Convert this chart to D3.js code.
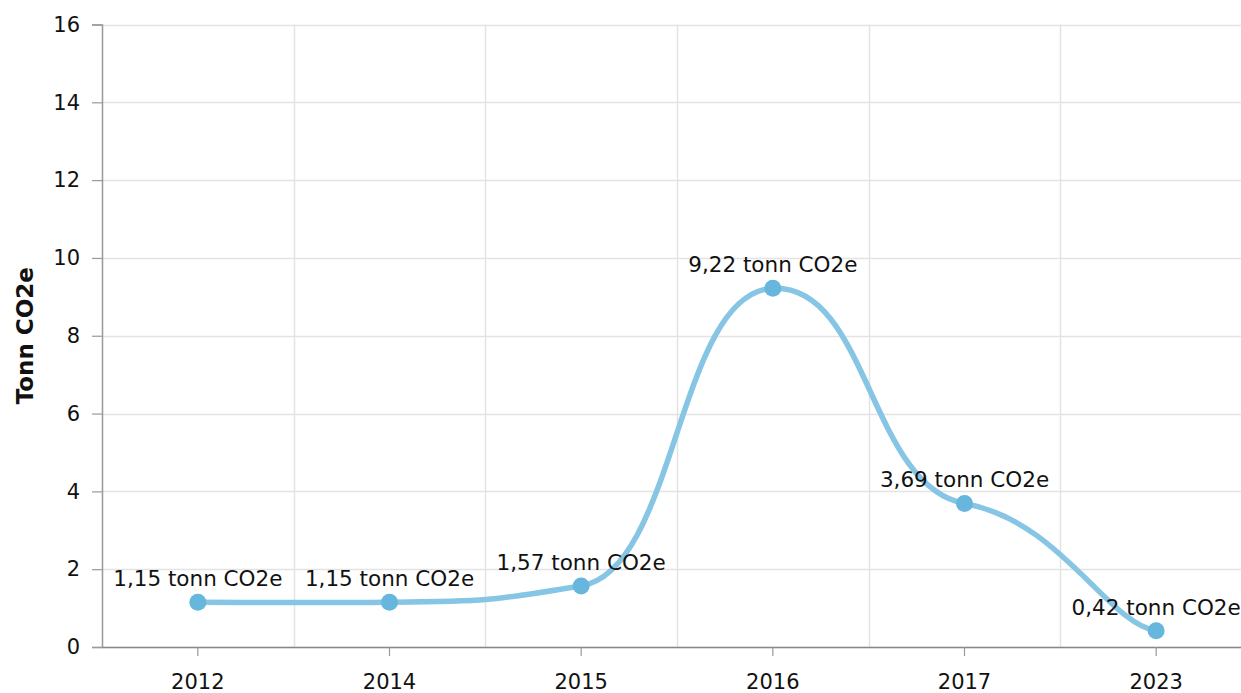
<!DOCTYPE html>
<html>
<head>
<meta charset="utf-8">
<script src="https://cdn.jsdelivr.net/npm/d3@7"></script>
<style>
  body { margin: 0; background: #fff; }
  svg { display: block; font-family: "DejaVu Sans", Verdana, sans-serif; }
</style>
</head>
<body>
<div id="chart"></div>
<script>
const years = ["2012", "2014", "2015", "2016", "2017", "2023"];
const values = [1.15, 1.15, 1.57, 9.22, 3.69, 0.42];
const labels = ["1,15 tonn CO2e", "1,15 tonn CO2e", "1,57 tonn CO2e", "9,22 tonn CO2e", "3,69 tonn CO2e", "0,42 tonn CO2e"];
const yTicks = [0, 2, 4, 6, 8, 10, 12, 14, 16];

const width = 1241, height = 693;
const margin = { top: 24.5, right: -11, bottom: 46, left: 102 };

const svg = d3.select("#chart").append("svg")
  .attr("width", width)
  .attr("height", height);

const x = d3.scaleBand()
  .domain(years)
  .range([margin.left, width - margin.right])
  .padding(0);

const y = d3.scaleLinear()
  .domain([0, 16])
  .range([height - margin.bottom, margin.top]);

const cx = d => x(d) + x.bandwidth() / 2;

// horizontal grid
svg.append("g")
  .selectAll("line")
  .data(yTicks)
  .join("line")
  .attr("x1", margin.left)
  .attr("x2", width)
  .attr("y1", d => Math.round(y(d)) + 0.5)
  .attr("y2", d => Math.round(y(d)) + 0.5)
  .attr("stroke", "#e3e3e3")
  .attr("stroke-width", 1.5);

// vertical grid at band edges
svg.append("g")
  .selectAll("line")
  .data(years.slice(1))
  .join("line")
  .attr("x1", d => Math.round(x(d)) + 0.5)
  .attr("x2", d => Math.round(x(d)) + 0.5)
  .attr("y1", y(16))
  .attr("y2", y(0))
  .attr("stroke", "#e3e3e3")
  .attr("stroke-width", 1.5);

// y axis
const yAxis = svg.append("g")
  .attr("transform", `translate(${margin.left},0)`)
  .call(d3.axisLeft(y).tickValues(yTicks).tickSize(10).tickPadding(12));
yAxis.select(".domain").attr("stroke", "#999").attr("stroke-width", 1.5);
yAxis.selectAll(".tick line").attr("stroke", "#999").attr("stroke-width", 1.2);
yAxis.selectAll("text")
  .attr("font-size", 21)
  .attr("fill", "#111")
  .attr("font-family", "DejaVu Sans, Verdana, sans-serif");

// x axis
const xAxis = svg.append("g")
  .attr("transform", `translate(0,${y(0)})`)
  .call(d3.axisBottom(x).tickSize(9).tickSizeOuter(0).tickPadding(18));
xAxis.select(".domain").attr("stroke", "#888").attr("stroke-width", 1.5);
xAxis.selectAll(".tick line").attr("stroke", "#999").attr("stroke-width", 1.2);
xAxis.selectAll("text")
  .attr("font-size", 21)
  .attr("fill", "#111")
  .attr("font-family", "DejaVu Sans, Verdana, sans-serif");

// y axis title
svg.append("text")
  .attr("transform", `translate(33,${(y(0) + y(16)) / 2}) rotate(-90)`)
  .attr("text-anchor", "middle")
  .attr("font-size", 23)
  .attr("font-weight", "bold")
  .attr("fill", "#111")
  .text("Tonn CO2e");

// smoothed line: bezier segments, x handles = chord/4, y handles = chord/20
function smoothPath(pts, bx = 4, by = 20) {
  const n = pts.length;
  const path = d3.path();
  path.moveTo(pts[0][0], pts[0][1]);
  for (let i = 0; i < n - 1; i++) {
    const p0 = pts[Math.max(i - 1, 0)], p1 = pts[i], p2 = pts[i + 1], p3 = pts[Math.min(i + 2, n - 1)];
    path.bezierCurveTo(
      p1[0] + (p2[0] - p0[0]) / bx, p1[1] + (p2[1] - p0[1]) / by,
      p2[0] - (p3[0] - p1[0]) / bx, p2[1] - (p3[1] - p1[1]) / by,
      p2[0], p2[1]);
  }
  return path.toString();
}

const points = values.map((v, i) => [cx(years[i]), y(v)]);

svg.append("path")
  .attr("d", smoothPath(points))
  .attr("fill", "none")
  .attr("stroke", "#86c5e4")
  .attr("stroke-width", 5.5)
  .attr("stroke-linecap", "round");

// points
svg.append("g")
  .selectAll("circle")
  .data(values)
  .join("circle")
  .attr("cx", (d, i) => cx(years[i]))
  .attr("cy", d => y(d))
  .attr("r", 8.5)
  .attr("fill", "#67b6dd");

// data labels
svg.append("g")
  .selectAll("text")
  .data(values)
  .join("text")
  .attr("x", (d, i) => cx(years[i]))
  .attr("y", d => y(d) - 16)
  .attr("text-anchor", "middle")
  .attr("font-size", 21.5)
  .attr("fill", "#111")
  .text((d, i) => labels[i]);
</script>
</body>
</html>
